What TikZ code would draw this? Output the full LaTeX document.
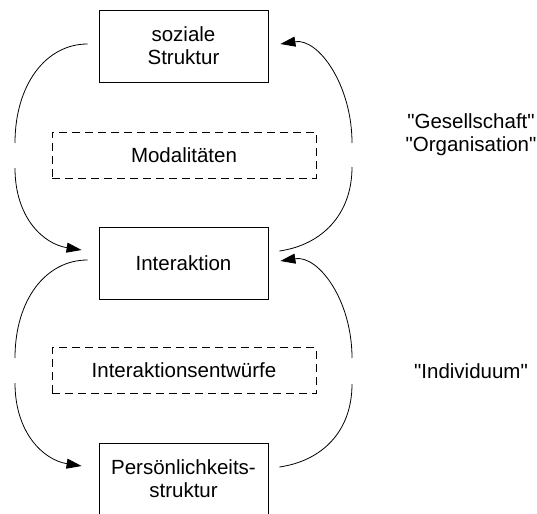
\documentclass[tikz,border=0pt]{standalone}
\usepackage{fontspec}
\setmainfont{Liberation Sans}[Ligatures=TeXOff]
\usetikzlibrary{arrows.meta,calc}
\begin{document}
\begin{tikzpicture}[x=1pt,y=-1pt,
  every node/.style={font=\fontsize{20.5}{23}\selectfont, align=center, inner sep=0pt},
  levelbox/.style={draw, line width=0.8pt, minimum width=169pt, minimum height=72pt},
  modbox/.style={draw, line width=0.8pt, dash pattern=on 8pt off 5pt, minimum width=264pt, minimum height=46pt},
  flow/.style={line width=0.8pt},
  flowarrow/.style={flow, -{Triangle[length=15pt,width=10pt]}}]
\useasboundingbox (0,0) rectangle (537,513);
\clip (0,0) rectangle (537,513);

% levels
\node[levelbox] (soz) at (183.5,46) {soziale\\Struktur};
\node[modbox]   (mod) at (184,155) {Modalitäten};
\node[levelbox] (int) at (183.5,263) {Interaktion};
\node[modbox]   (ent) at (184,370.5) {Interaktionsentwürfe};
\node[levelbox] (per) at (183.5,479) {Persönlichkeits-\\struktur};

% side labels
\node (ges) at (471,135) {"Gesellschaft"\\"Organisation"};
\node (ind) at (471,371) {"Individuum"};

% break points of the loops
\coordinate (l1a) at (15,143);
\coordinate (l1b) at (15,168);
\coordinate (r1a) at (352,143);
\coordinate (r1b) at (352,167);
\coordinate (l2a) at (15,358);
\coordinate (l2b) at (15,383);
\coordinate (r2a) at (352,358);
\coordinate (r2b) at (352,384);

% upper loop: soziale Struktur -> Interaktion (left)
\draw[flow] ($(soz.west)+(-11,-2)$) .. controls +(-42,0) and +(0,-58) .. (l1a);
\draw[flowarrow] (l1b) .. controls +(0,50) and +(-38,-6) .. ($(int.west)+(-17,-13)$);
% upper loop: Interaktion -> soziale Struktur (right)
\draw[flow] ($(int.east)+(11,-12)$) .. controls +(42,-6) and +(0,48) .. (r1b);
\draw[flowarrow] (r1a) .. controls +(0,-58) and +(38,-6) .. ($(soz.east)+(12,-2)$);

% lower loop: Interaktion -> Persoenlichkeitsstruktur (left)
\draw[flow] ($(int.west)+(-11,-3)$) .. controls +(-42,0) and +(0,-58) .. (l2a);
\draw[flowarrow] (l2b) .. controls +(0,50) and +(-38,-6) .. ($(per.west)+(-17,-13)$);
% lower loop: Persoenlichkeitsstruktur -> Interaktion (right)
\draw[flow] ($(per.east)+(11,-12)$) .. controls +(42,-6) and +(0,48) .. (r2b);
\draw[flowarrow] (r2a) .. controls +(0,-58) and +(38,-6) .. ($(int.east)+(12,-2)$);
\end{tikzpicture}
\end{document}
